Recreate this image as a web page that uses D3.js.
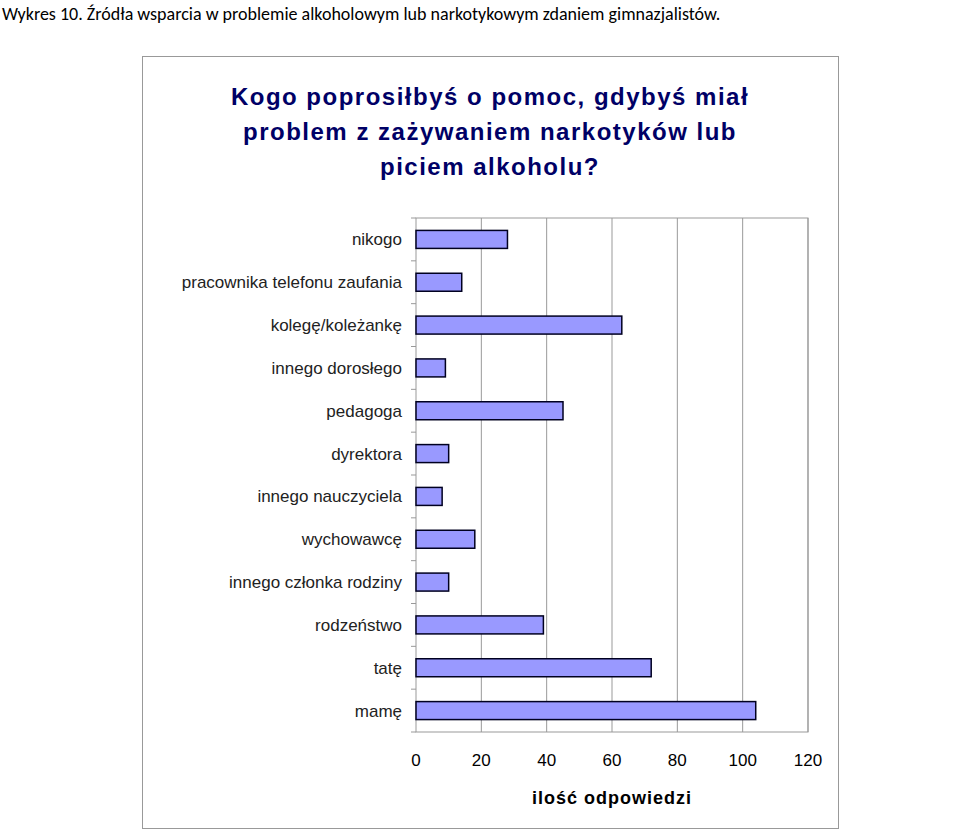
<!DOCTYPE html>
<html><head><meta charset="utf-8">
<script src="https://cdn.jsdelivr.net/npm/d3@7"></script>
<style>body{margin:0;background:#fff}</style>
</head><body>
<script>
var categories = ["nikogo", "pracownika telefonu zaufania", "kolegę/koleżankę", "innego dorosłego", "pedagoga", "dyrektora", "innego nauczyciela", "wychowawcę", "innego członka rodziny", "rodzeństwo", "tatę", "mamę"];
var values = [28, 14, 63, 9, 45, 10, 8, 18, 10, 39, 72, 104];
var xTicks = [0, 20, 40, 60, 80, 100, 120];

(function () {
var svg = d3.select("body").append("svg").attr("width", 960).attr("height", 831);
svg.append("text").attr("x", 2).attr("y", 20).style("font-family", "Carlito, 'Liberation Sans', sans-serif").style("font-size", "18px").text("Wykres 10. Źródła wsparcia w problemie alkoholowym lub narkotykowym zdaniem gimnazjalistów.");

svg.append("rect").attr("x", 142.5).attr("y", 56.5).attr("width", 696).attr("height", 772).attr("fill", "#fff").attr("stroke", "#999");

var title = ["Kogo poprosiłbyś o pomoc, gdybyś miał", "problem z zażywaniem narkotyków lub", "piciem alkoholu?"];
svg.selectAll(".title").data(title).enter().append("text").attr("x", 490).attr("y", function (d, i) { return 105 + i * 35 }).attr("text-anchor", "middle").style("font-family", "'Liberation Sans', Arial, sans-serif").style("font-size", "24px").style("letter-spacing", "1.5px").style("font-weight", "bold").style("fill", "#000066").text(function (d) { return d });

var left = 416, top0 = 218, right = 808, bottom = 732;
var x = d3.scaleLinear().domain([0, 120]).range([left, right]);
var y = d3.scaleBand().domain(categories).range([top0, bottom]).paddingInner(0.58).paddingOuter(0.29);
var yb = d3.scaleBand().domain(categories).range([top0, bottom]);

svg.append("g").selectAll("line").data(xTicks.slice(1)).enter().append("line").attr("x1", function (d) { return x(d) }).attr("x2", function (d) { return x(d) }).attr("y1", top0).attr("y2", bottom).attr("stroke", "#999");
svg.append("rect").attr("x", left).attr("y", top0).attr("width", right - left).attr("height", bottom - top0).attr("fill", "none").attr("stroke", "#999");

svg.append("g").selectAll("line").data(d3.range(categories.length + 1)).enter().append("line").attr("x1", left - 5).attr("x2", left).attr("y1", function (d) { return top0 + d * yb.step() }).attr("y2", function (d) { return top0 + d * yb.step() }).attr("stroke", "#999");

svg.append("g").selectAll("rect").data(values).enter().append("rect").attr("x", x(0)).attr("y", function (d, i) { return y(categories[i]) }).attr("width", function (d) { return x(d) - x(0) }).attr("height", y.bandwidth()).attr("fill", "#9999ff").attr("stroke", "#000020").attr("stroke-width", 1.5);

svg.append("g").selectAll("text").data(categories).enter().append("text").attr("x", 402).attr("y", function (d) { return yb(d) + yb.bandwidth() / 2 + 6 }).attr("text-anchor", "end").style("font-family", "'Liberation Sans', Arial, sans-serif").style("font-size", "17px").style("fill", "#222").text(function (d) { return d });

svg.append("g").selectAll("text").data(xTicks).enter().append("text").attr("x", function (d) { return x(d) }).attr("y", 766).attr("text-anchor", "middle").style("font-family", "'Liberation Sans', Arial, sans-serif").style("font-size", "17px").text(function (d) { return d });

svg.append("text").attr("x", 612).attr("y", 804).attr("text-anchor", "middle").style("font-family", "'Liberation Sans', Arial, sans-serif").style("font-size", "18px").style("letter-spacing", "1px").style("font-weight", "bold").text("ilość odpowiedzi");
})();
</script>
</body></html>
